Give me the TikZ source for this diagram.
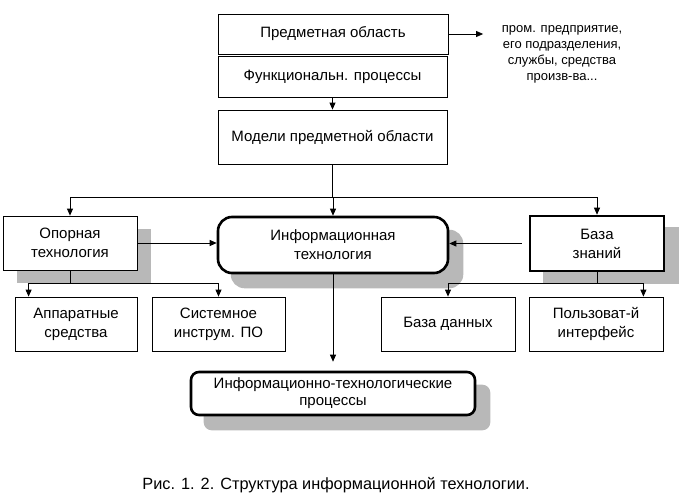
\documentclass[tikz,border=0pt]{standalone}
\usepackage{fontspec}
\setmainfont{Liberation Sans}
\usetikzlibrary{arrows.meta,positioning,fit,backgrounds}

\begin{document}
\begin{tikzpicture}[
  x=1pt, y=-1pt, >={Triangle[length=7pt,width=6pt]},
  font=\fontsize{15}{19}\selectfont, line width=0.8pt,
  box/.style={draw, fill=white, align=center, inner sep=1pt},
  bold/.style={box, line width=2.6pt},
  rnd/.style={bold, rounded corners=14pt},
  shd/.style={fill=black!28, draw=none, inner sep=0pt},
  lnk/.style={->, line width=0.8pt},
  note/.style={font=\fontsize{13}{16}\selectfont, align=center},
]
\useasboundingbox (0,0) rectangle (693,503);
% ---------------- top column ----------------
\node[box, minimum width=230pt, minimum height=40pt] (pa) at (333,34) {Предметная область};
\node[box, minimum width=229pt, minimum height=41pt] (fp) at (332.5,76.5) {Функциональн. процессы};
\node[box, minimum width=229pt, minimum height=54pt] (mpo) at (332.5,137) {Модели предметной области};
\node[note] (side) at (562,54) {пром. предприятие,\\его подразделения,\\службы, средства\\произв-ва...};

% ---------------- middle row ----------------
\node[box, minimum width=134pt, minimum height=54pt] (opt) at (70,243) {Опорная\\технология};
\node[rnd, minimum width=230pt, minimum height=56pt] (it) at (333,245) {Информационная\\технология};
\node[bold, minimum width=134pt, minimum height=55pt] (bz) at (597,243.5) {База\\знаний};

% ---------------- lower row ----------------
\node[box, minimum width=122pt, minimum height=54pt] (aps) at (76,324) {Аппаратные\\средства};
\node[box, minimum width=133pt, minimum height=54pt] (sip) at (218.5,324) {Системное\\инструм. ПО};
\node[box, minimum width=134pt, minimum height=54pt] (bd) at (448,324) {База данных};
\node[box, minimum width=134pt, minimum height=54pt] (pi) at (596,324) {Пользоват-й\\интерфейс};
\node[rnd, rounded corners=8pt, minimum width=284pt, minimum height=43pt, font=\fontsize{15}{17}\selectfont]
  (itp) at (333,393.5) {Информационно-технологические\\процессы};

\node[font=\fontsize{16.3}{19}\selectfont] (cap) at (336,485) {Рис. 1. 2. Структура информационной технологии.};

% ---------------- shadows ----------------
\begin{scope}[on background layer]
\node[shd, fit=(opt), xshift=14pt, yshift=-13pt] {};
\node[shd, fit=(it), rounded corners=14pt, xshift=14pt, yshift=-14pt] {};
\node[shd, fit=(bz), xshift=14pt, yshift=-12pt] {};
\node[shd, fit=(itp), rounded corners=8pt, xshift=14pt, yshift=-14pt] {};
\end{scope}

% ---------------- connectors ----------------
\coordinate (bus) at (0,197);
\coordinate (lbus) at (0,283);
\coordinate (rbus) at (0,283);
\draw[lnk] (pa.east) -- (pa.east -| side.west) [shorten >=15pt];
\draw[lnk] (fp.south) -- (mpo.north);
\draw (mpo.south) -- (mpo.south |- bus);
\draw (opt.north |- bus) -- (bz.north |- bus);
\draw[lnk] (opt.north |- bus) -- (opt.north);
\draw[lnk] (it.north |- bus) -- (it.north);
\draw[lnk] (bz.north |- bus) -- (bz.north);
\draw[lnk] (opt.east) -- (opt.east -| it.west);
\draw[lnk, shorten <=7pt] (bz.west) -- (bz.west -| it.east);

\draw (opt.south) -- (opt.south |- lbus);
\draw ([xshift=14pt]aps.north west |- lbus) -- (sip.north |- lbus);
\draw[lnk] ([xshift=14pt]aps.north west |- lbus) -- ([xshift=14pt]aps.north west);
\draw[lnk] (sip.north |- lbus) -- (sip.north);

\draw (bz.south) -- (bz.south |- rbus);
\draw (bd.north |- rbus) -- ([xshift=-20pt]pi.north east |- rbus);
\draw[lnk] (bd.north |- rbus) -- (bd.north);
\draw[lnk] ([xshift=-20pt]pi.north east |- rbus) -- ([xshift=-20pt]pi.north east);

\draw[lnk, shorten >=9pt] (it.south) -- (itp.north);
\end{tikzpicture}
\end{document}
